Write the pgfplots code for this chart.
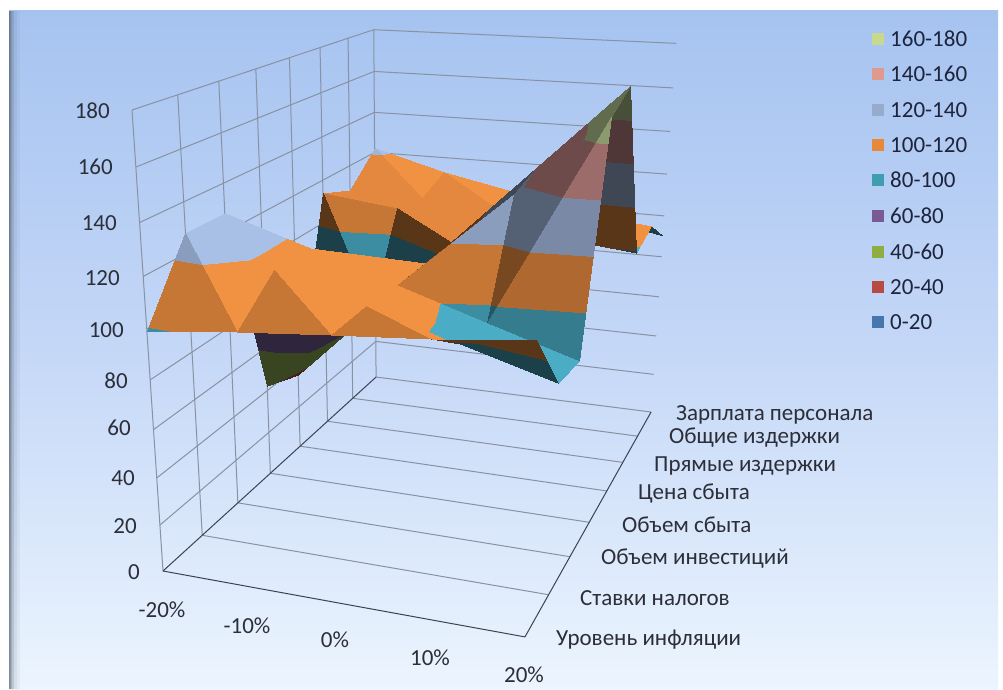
\documentclass[border=0pt]{standalone}
\usepackage{pgfplots}
\pgfplotsset{compat=1.18}
\usepackage{fontspec}
\setmainfont{Carlito}
\definecolor{bgtop}{RGB}{166,195,240}
\definecolor{bgmid}{RGB}{196,215,247}
\definecolor{bgbot}{RGB}{236,245,254}
\definecolor{gridc}{RGB}{136,146,162}
\definecolor{edgec}{RGB}{60,66,84}
\definecolor{labc}{RGB}{44,46,56}
\definecolor{legc}{RGB}{30,36,60}
\definecolor{shadowc}{RGB}{80,92,108}

% Perspective of the box: p = 0..4 (-20%..20%), k = 0..7 (category), z = 0..180
\newcommand\PD{(1-0.0826*\thisrow{p}/4+0.354*\thisrow{k}/7-0.1153*\thisrow{z}/180)}
\newcommand\PX{(163+318.6*\thisrow{p}/4+346.2*\thisrow{k}/7-46.2*\thisrow{z}/180)/\PD}
\newcommand\PY{(571+13.3*\thisrow{p}/4-60.5*\thisrow{k}/7-473.7*\thisrow{z}/180)/\PD}
\pgfplotsset{table/proj/.style={x expr={\PX},y expr={\PY}}}

% A straight segment of the box grid, given by its two ends in box coordinates
\newcommand\seg[7][gridc]{\addplot[#1,line width=1pt,forget plot] table[row sep=\\,proj]{p k z\\ #2 #3 #4\\ #5 #6 #7\\};}

% Colormap of the value bands, repeated for each facet brightness: meta = z + 200*s
\def\stops{}
\foreach \s/\f in {0/1.0,1/0.94,2/0.82,3/0.72,4/0.5,5/0.37}{
  \foreach \b/\rr/\gg/\bb in {0/79/129/189,1/192/80/77,2/155/187/89,3/128/100/162,4/75/172/198,5/241/145/66,6/169/192/230,7/217/150/148,8/195/214/155}{
    \pgfmathsetmacro\lo{200*\s+20*\b}
    \pgfmathsetmacro\hi{\b==8 ? 200*\s+199.9 : 200*\s+20*\b+19.98}
    \pgfmathsetmacro\cr{\rr*\f/255}
    \pgfmathsetmacro\cg{\gg*\f/255}
    \pgfmathsetmacro\cb{\bb*\f/255}
    \xdef\stops{\stops rgb(\lo pt)=(\cr,\cg,\cb) rgb(\hi pt)=(\cr,\cg,\cb) }
  }
}
\edef\tmp{\noexpand\pgfplotsset{colormap={facets}{\stops}}}
\tmp

\begin{document}
\begin{tikzpicture}[x=1pt,y=1pt]
\path[use as bounding box] (0,0) rectangle (1003,689);
\fill[white] (0,0) rectangle (1003,689);
% panel background
\shade[top color=bgtop,bottom color=bgmid] (9,689-11) rectangle (998,689-345);
\shade[top color=bgmid,bottom color=bgbot] (9,689-345) rectangle (998,0);
% soft shadow along the panel's left edge
\foreach \xa/\xb/\op in {9/10/0.7,10/11/0.6,11/12/0.45,12/14/0.3,14/17/0.14,17/20/0.06}
  \fill[shadowc,opacity=\op] (\xa,689-11) rectangle (\xb,0);

\begin{axis}[at={(0,0)},anchor=south west,width=1003pt,height=689pt,scale only axis,
  xmin=0,xmax=1003,ymin=0,ymax=689,y dir=reverse,hide axis,clip=false]

% left wall: value lines and category verticals
\pgfplotsinvokeforeach{20,40,...,180}{\seg{0}{0}{#1}{0}{7}{#1}}
\pgfplotsinvokeforeach{1,...,6}{\seg{0}{#1}{0}{0}{#1}{180}}
\seg{0}{0}{0}{0}{0}{180}
\seg{0}{7}{0}{0}{7}{180}
% back wall: value lines
\pgfplotsinvokeforeach{20,40,...,180}{\seg{0}{7}{#1}{4}{7}{#1}}
% floor: category lines and outer edges
\pgfplotsinvokeforeach{1,...,7}{\seg{0}{#1}{0}{4}{#1}{0}}
\seg[edgec]{0}{0}{0}{4}{0}{0}
\seg[edgec]{0}{0}{0}{0}{7}{0}
\seg[edgec]{4}{0}{0}{4}{7}{0}

% surface, far facets first
\addplot[patch,patch type=triangle,shader=interp,colormap name=facets,
  point meta=explicit,point meta min=0,point meta max=1200,forget plot]
  table[proj,meta expr={\thisrow{z}+200*\thisrow{s}}]{
p k z s
1 6 107 0
1 7 113 0
0 7 122 0
0 6 108 1
1 6 107 1
0 7 122 1
2 6 105.5 0
2 7 105.5 0
1 7 113 0
1 6 107 1
2 6 105.5 1
1 7 113 1
3 6 104 0
3 7 98 0
2 7 105.5 0
2 6 105.5 1
3 6 104 1
2 7 105.5 1
4 6 103 5
4 7 90 5
3 7 98 5
3 6 104 0
4 6 103 0
3 7 98 0
1 5 110 1
1 6 107 1
0 6 108 1
0 5 114 1
1 5 110 1
0 6 108 1
2 5 106.5 1
2 6 105.5 1
1 6 107 1
1 5 110 1
2 5 106.5 1
1 6 107 1
3 5 103 0
3 6 104 0
2 6 105.5 0
2 5 106.5 1
3 5 103 1
2 6 105.5 1
4 5 99 0
4 6 103 0
3 6 104 0
3 5 103 1
4 5 99 1
3 6 104 1
1 4 71 2
1 5 110 2
0 5 114 2
0 4 36 5
1 4 71 5
0 5 114 5
2 4 106 1
2 5 106.5 1
1 5 110 1
1 4 71 5
2 4 106 5
1 5 110 5
3 4 141 5
3 5 103 5
2 5 106.5 5
2 4 106 5
3 4 141 5
2 5 106.5 5
4 4 176 5
4 5 99 5
3 5 103 5
3 4 141 5
4 4 176 5
3 5 103 5
1 3 74 5
1 4 71 5
0 4 36 5
0 3 42 5
1 3 74 5
0 4 36 5
2 3 105.5 5
2 4 106 5
1 4 71 5
1 3 74 5
2 3 105.5 5
1 4 71 5
3 3 137 5
3 4 141 5
2 4 106 5
2 3 105.5 5
3 3 137 5
2 4 106 5
4 3 169.5 4
4 4 176 4
3 4 141 4
3 3 137 4
4 3 169.5 4
3 4 141 4
1 2 117 5
1 3 74 5
0 3 42 5
0 2 128 5
1 2 117 5
0 3 42 5
1 2 117 5
2 3 105.5 5
1 3 74 5
1 2 117 0
2 2 105.5 0
2 3 105.5 0
2 2 105.5 4
3 3 137 4
2 3 105.5 4
2 2 105.5 2
3 2 94 2
3 3 137 2
3 2 94 4
4 3 169.5 4
3 3 137 4
3 2 94 3
4 2 83 3
4 3 169.5 3
1 1 117 0
1 2 117 0
0 2 128 0
0 1 128 0
1 1 117 0
0 2 128 0
2 1 107 0
2 2 105.5 0
1 2 117 0
1 1 117 0
2 1 107 0
1 2 117 0
3 1 96.5 0
3 2 94 0
2 2 105.5 0
2 1 107 0
3 1 96.5 0
2 2 105.5 0
4 1 86 0
4 2 83 0
3 2 94 0
3 1 96.5 0
4 1 86 0
3 2 94 0
1 0 103 0
1 1 117 0
0 1 128 0
0 0 99 2
1 0 103 2
0 1 128 2
2 0 106 0
2 1 107 0
1 1 117 0
1 0 103 2
2 0 106 2
1 1 117 2
3 0 109 0
3 1 96.5 0
2 1 107 0
2 0 106 2
3 0 109 2
2 1 107 2
4 0 113 5
4 1 86 5
3 1 96.5 5
3 0 109 5
4 0 113 5
3 1 96.5 5
};
\end{axis}

% value axis labels
\foreach \v/\yy/\rx in {180/111/110,160/167/113,140/223/117,120/278/120,100/330/124,80/381/128,60/428/131,40/478/135,20/526/137,0/572/140}
  \node[anchor=east,inner sep=0pt,font=\fontsize{23}{23}\selectfont,text=labc] at (\rx,689-\yy) {\v};
% percentage labels
\foreach \t/\xx/\yy in {-20\%/162/610,-10\%/247/626,0\%/335/640,10\%/430/658,20\%/524/675}
  \node[inner sep=0pt,font=\fontsize{23}{23}\selectfont,text=labc] at (\xx,689-\yy) {\t};
% category labels
\foreach \t/\xx/\yy in {Зарплата персонала/676/415,Общие издержки/669/438,Прямые издержки/654/466,Цена сбыта/638/493,Объем сбыта/622/525,Объем инвестиций/601/559,Ставки налогов/580/598,Уровень инфляции/556/640}
  \node[anchor=west,inner sep=0pt,font=\fontsize{23}{23}\selectfont,text=labc] at (\xx,689-\yy) {\t};
% legend
\foreach \t/\yy/\cc in {160-180/39/{200,216,140},140-160/74/{222,154,140},120-140/110/{151,171,205},100-120/145/{232,136,58},80-100/180/{62,157,175},60-80/216/{122,90,146},40-60/252/{143,174,66},20-40/287/{184,74,68},0-20/322/{70,118,174}}{
  \definecolor{lk}{RGB}{\cc}
  \fill[lk] (872,689-\yy-6) rectangle (884,689-\yy+6);
  \node[anchor=west,inner sep=0pt,font=\fontsize{23}{23}\selectfont,text=legc] at (890,689-\yy) {\t};
}
\end{tikzpicture}
\end{document}
